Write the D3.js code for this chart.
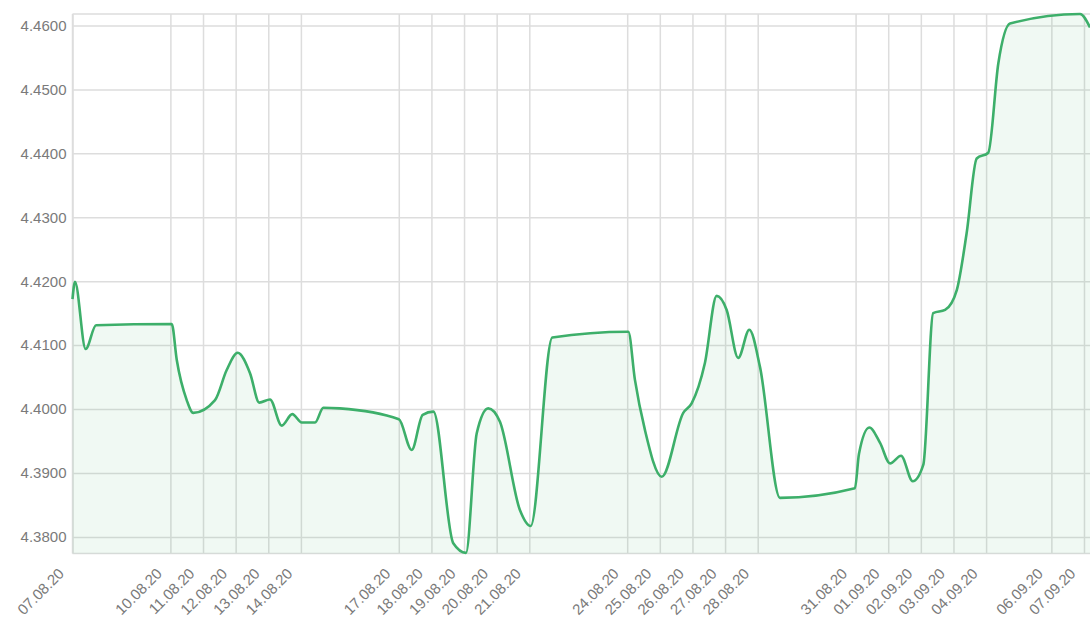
<!DOCTYPE html>
<html>
<head>
<meta charset="utf-8">
<script src="https://cdn.jsdelivr.net/npm/d3@7/dist/d3.min.js"></script>
<style>
  html, body { margin: 0; padding: 0; background: #fff; }
  svg { display: block; }
  .axis text { font-family: "Liberation Sans", Arial, sans-serif; font-size: 15px; fill: #7a7a7a; }
</style>
</head>
<body>
<svg id="chart" width="1090" height="619"></svg>
<script>
// ---- data ----
const times = [
  "2020-08-07T00:00","2020-08-07T01:50","2020-08-07T09:40","2020-08-07T17:20",
  "2020-08-10T01:00","2020-08-10T04:40","2020-08-10T12:00","2020-08-10T16:50",
  "2020-08-11T08:50","2020-08-11T17:25","2020-08-12T01:30","2020-08-12T10:35",
  "2020-08-12T17:25","2020-08-13T01:15","2020-08-13T09:55","2020-08-13T17:40",
  "2020-08-14T00:35","2020-08-14T10:25","2020-08-14T16:30","2020-08-15T04:40",
  "2020-08-17T00:05","2020-08-17T09:30","2020-08-17T17:35","2020-08-18T01:25",
  "2020-08-18T16:05","2020-08-19T01:25","2020-08-19T09:20","2020-08-19T17:50",
  "2020-08-20T02:25","2020-08-20T17:05","2020-08-21T01:00","2020-08-21T16:55",
  "2020-08-24T00:50","2020-08-24T05:40","2020-08-24T13:05","2020-08-25T01:25",
  "2020-08-25T17:15","2020-08-25T23:25","2020-08-26T09:10","2020-08-26T17:50",
  "2020-08-27T01:10","2020-08-27T09:40","2020-08-27T17:50","2020-08-28T01:40",
  "2020-08-28T16:25","2020-08-30T23:30","2020-08-31T02:30","2020-08-31T10:05",
  "2020-08-31T18:00","2020-09-01T01:20","2020-09-01T09:25","2020-09-01T18:00",
  "2020-09-02T01:50","2020-09-02T09:05","2020-09-02T17:50","2020-09-03T02:25",
  "2020-09-03T09:40","2020-09-03T17:05","2020-09-04T01:35","2020-09-04T09:00",
  "2020-09-04T17:35","2020-09-06T21:05","2020-09-07T04:25"
];
const values = [
  4.4172,4.4199,4.4094,4.4131,
  4.4133,4.4077,4.4014,4.3994,
  4.4014,4.4061,4.4088,4.4056,
  4.4010,4.4015,4.3974,4.3992,
  4.3979,4.3979,4.4002,4.4001,
  4.3984,4.3936,4.3991,4.3996,
  4.3790,4.3775,4.3962,4.4001,
  4.3980,4.3842,4.3817,4.4112,
  4.4121,4.4046,4.3967,4.3894,
  4.3994,4.4009,4.4072,4.4177,
  4.4155,4.4080,4.4124,4.4066,
  4.3861,4.3876,4.3930,4.3971,
  4.3947,4.3915,4.3927,4.3887,
  4.3913,4.4150,4.4155,4.4186,
  4.4275,4.4392,4.4401,4.4541,
  4.4603,4.4618,4.4597
];
const xTickLabels = [
  "07.08.20","10.08.20","11.08.20","12.08.20","13.08.20","14.08.20",
  "17.08.20","18.08.20","19.08.20","20.08.20","21.08.20",
  "24.08.20","25.08.20","26.08.20","27.08.20","28.08.20",
  "31.08.20","01.09.20","02.09.20","03.09.20","04.09.20","06.09.20","07.09.20"
];
const yTickValues = [4.38, 4.39, 4.40, 4.41, 4.42, 4.43, 4.44, 4.45, 4.46];

// ---- build ----
const parseTime = d3.timeParse("%Y-%m-%dT%H:%M");
const parseLabel = d3.timeParse("%d.%m.%y");
const data = times.map((t, i) => ({ t: parseTime(t), v: values[i] }));
const tickDates = xTickLabels.map(parseLabel);

const M = { left: 72.5, right: 1090, top: 14, bottom: 553.5 };

const x = d3.scaleTime()
  .domain(d3.extent(data, d => d.t))
  .range([M.left, M.right]);
const y = d3.scaleLinear()
  .domain([4.3774, 4.4618])
  .range([M.bottom, M.top]);

const svg = d3.select("#chart");
const gridColor = "#dddddd";

// top frame
svg.append("line").attr("x1", M.left).attr("x2", M.right).attr("y1", M.top).attr("y2", M.top)
  .attr("stroke", gridColor).attr("stroke-width", 1.5);

// y axis + horizontal gridlines
const yAxis = svg.append("g").attr("class", "axis")
  .attr("transform", `translate(${M.left},0)`)
  .call(d3.axisLeft(y).tickValues(yTickValues).tickFormat(d3.format(".4f"))
    .tickSize(-(M.right - M.left)).tickPadding(6));
yAxis.select(".domain").remove();
yAxis.selectAll(".tick line").attr("stroke", gridColor).attr("stroke-width", 1.5);

// x axis + vertical gridlines
const xAxis = svg.append("g").attr("class", "axis")
  .attr("transform", `translate(0,${M.bottom})`)
  .call(d3.axisBottom(x).tickValues(tickDates)
    .tickFormat((d, i) => xTickLabels[i]).tickSize(-(M.bottom - M.top)));
xAxis.select(".domain").remove();
xAxis.selectAll(".tick line").attr("stroke", gridColor).attr("stroke-width", 1.5);
xAxis.selectAll(".tick text")
  .attr("text-anchor", "end")
  .attr("dy", null)
  .attr("y", 0)
  .attr("transform", "translate(-8,21) rotate(-45)");

// left + bottom frame lines
svg.append("line").attr("x1", M.left).attr("x2", M.left).attr("y1", M.top).attr("y2", M.bottom)
  .attr("stroke", gridColor).attr("stroke-width", 1.5);
svg.append("line").attr("x1", M.left).attr("x2", M.right).attr("y1", M.bottom).attr("y2", M.bottom)
  .attr("stroke", gridColor).attr("stroke-width", 1.5);

// area + line
const curve = d3.curveMonotoneX;
svg.append("path").datum(data)
  .attr("fill", "rgba(60,175,105,0.08)")
  .attr("d", d3.area().x(d => x(d.t)).y0(M.bottom).y1(d => y(d.v)).curve(curve));
svg.append("path").datum(data)
  .attr("fill", "none")
  .attr("stroke", "#3daf6a")
  .attr("stroke-width", 2.6)
  .attr("stroke-linejoin", "round")
  .attr("d", d3.line().x(d => x(d.t)).y(d => y(d.v)).curve(curve));
</script>
</body>
</html>
